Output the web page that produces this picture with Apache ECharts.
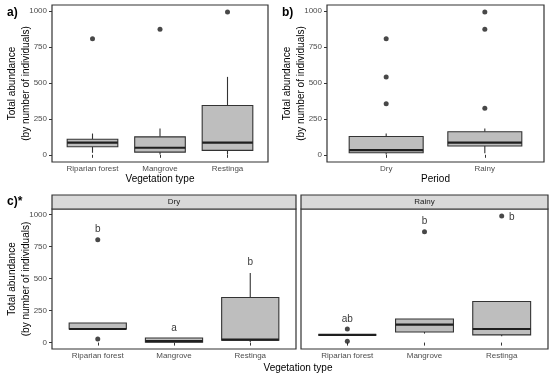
<!DOCTYPE html>
<html><head><meta charset="utf-8">
<script src="https://cdn.jsdelivr.net/npm/echarts@6/dist/echarts.min.js"></script>
<style>html,body{margin:0;padding:0;background:#fff}#c{width:550px;height:377px}</style>
</head><body><div id="c"></div>
<script>
// ---------- data ----------
const vegCats = ['Riparian forest', 'Mangrove', 'Restinga'];
const periodCats = ['Dry', 'Rainy'];
const yTicks = [0, 250, 500, 750, 1000];
// box stats: [position, lowerWhisker, Q1, median, Q3, upperWhisker]
const boxesVeg = [[1, 14, 56, 85, 108, 148], [2, 3, 19, 49, 125, 183], [3, 2, 31, 85, 343, 542]];
const outliersVeg = [[1, 808], [2, 873], [3, 993]];
const boxesPeriod = [[1, 3, 14, 33, 127, 148], [2, 10, 61, 85, 160, 183]];
const outliersPeriod = [[1, 808], [1, 542], [1, 355], [2, 993], [2, 873], [2, 324]];
const boxesDry = [[1, 106, 106, 106, 153, 153], [2, 2, 3, 12, 36, 36], [3, 5, 18, 23, 352, 542]];
const outliersDry = [[1, 803], [1, 28]];
const lettersDry = [[1, 883, 'b'], [2, 114, 'a'], [3, 624, 'b']];
const boxesRainy = [[1, 60, 60, 60, 60, 60], [2, 70, 83, 140, 184, 184], [3, 49, 60, 106, 321, 321]];
const outliersRainy = [[1, 106], [1, 10], [2, 865], [3, 987]];
const lettersRainy = [[1, 184, 'ab'], [2, 943, 'b'], [3.13, 981, 'b']];

// ---------- styling ----------
const FONT = 'Liberation Sans, Arial, Helvetica, sans-serif';
const TICK_COL = '#4d4d4d';
const FRAME = '#333333';
const Y_MIN = -50, Y_MAX = 1042;

const grids = [
  { left: 52, top: 5, width: 216, height: 157 },
  { left: 327, top: 5, width: 217, height: 157 },
  { left: 52, top: 209, width: 244, height: 140 },
  { left: 301, top: 209, width: 247, height: 140 }
].map(g => Object.assign({ show: true, borderColor: FRAME, borderWidth: 1.2, backgroundColor: '#fff',
  containLabel: false, outerBoundsMode: 'none' }, g));

function xAxis(idx, cats, name) {
  const vals = cats.map((c, i) => i + 1);
  return {
    type: 'value', gridIndex: idx, min: 0.4, max: cats.length + 0.6,
    axisLine: { show: false }, splitLine: { show: false },
    axisTick: { show: true, length: 3, customValues: vals, lineStyle: { color: FRAME, width: 1 } },
    axisLabel: { show: true, customValues: vals, margin: 3, fontSize: 8, color: TICK_COL, fontFamily: FONT,
      formatter: v => cats[Math.round(v) - 1] || '' },
    name: name, nameLocation: 'middle', nameGap: 12, nameMoveOverlap: false,
    nameTextStyle: { fontSize: 10, color: '#000', fontFamily: FONT }
  };
}
function yAxis(idx, showLabels) {
  return {
    type: 'value', gridIndex: idx, min: Y_MIN, max: Y_MAX,
    axisLine: { show: false }, splitLine: { show: false },
    axisTick: { show: showLabels, length: 3, customValues: yTicks, lineStyle: { color: FRAME, width: 1 } },
    axisLabel: { show: showLabels, customValues: yTicks, margin: 5, fontSize: 8, color: TICK_COL, fontFamily: FONT,
      formatter: v => String(v) },
    name: showLabels ? 'Total abundance\n(by number of individuals)' : '',
    nameLocation: 'middle', nameRotate: 90, nameGap: 19, nameMoveOverlap: false,
    nameTextStyle: { fontSize: 10, color: '#000', fontFamily: FONT, lineHeight: 14 }
  };
}

function renderBox(params, api) {
  const x = api.value(0);
  const lo = api.coord([x, api.value(1)]);
  const q1 = api.coord([x, api.value(2)]);
  const med = api.coord([x, api.value(3)]);
  const q3 = api.coord([x, api.value(4)]);
  const hi = api.coord([x, api.value(5)]);
  const w = api.size([0.75, 0])[0];
  const cx = q1[0];
  return {
    type: 'group',
    children: [
      { type: 'line', shape: { x1: cx, y1: lo[1], x2: cx, y2: q1[1] }, style: { stroke: FRAME, lineWidth: 1.1 } },
      { type: 'line', shape: { x1: cx, y1: q3[1], x2: cx, y2: hi[1] }, style: { stroke: FRAME, lineWidth: 1.1 } },
      { type: 'rect', shape: { x: cx - w / 2, y: q3[1], width: w, height: q1[1] - q3[1] },
        style: { fill: '#bebebe', stroke: FRAME, lineWidth: 1.1 } },
      { type: 'line', shape: { x1: cx - w / 2, y1: med[1], x2: cx + w / 2, y2: med[1] },
        style: { stroke: '#1f1f1f', lineWidth: 2.2 } }
    ]
  };
}
function boxSeries(idx, data) {
  return { type: 'custom', xAxisIndex: idx, yAxisIndex: idx, renderItem: renderBox,
    dimensions: ['x', 'lo', 'q1', 'med', 'q3', 'hi'],
    encode: { x: 0, y: [1, 2, 3, 4, 5] }, data: data, silent: true, z: 2 };
}
function outlierSeries(idx, data) {
  return { type: 'scatter', xAxisIndex: idx, yAxisIndex: idx, data: data, symbolSize: 5,
    itemStyle: { color: '#1a1a1a' }, silent: true, z: 3 };
}
function letterSeries(idx, data) {
  return { type: 'scatter', xAxisIndex: idx, yAxisIndex: idx, symbolSize: 0, silent: true, z: 4,
    data: data.map(d => ({ value: [d[0], d[1]], name: d[2] })),
    label: { show: true, position: 'inside', formatter: '{b}', fontSize: 10, color: '#000', fontFamily: FONT } };
}

const option = {
  animation: false,
  grid: grids,
  xAxis: [xAxis(0, vegCats, 'Vegetation type'), xAxis(1, periodCats, 'Period'), xAxis(2, vegCats, ''), xAxis(3, vegCats, '')],
  yAxis: [yAxis(0, true), yAxis(1, true), yAxis(2, true), yAxis(3, false)],
  series: [
    boxSeries(0, boxesVeg), outlierSeries(0, outliersVeg),
    boxSeries(1, boxesPeriod), outlierSeries(1, outliersPeriod),
    boxSeries(2, boxesDry), outlierSeries(2, outliersDry), letterSeries(2, lettersDry),
    boxSeries(3, boxesRainy), outlierSeries(3, outliersRainy), letterSeries(3, lettersRainy)
  ],
  graphic: [
    { type: 'rect', shape: { x: 52, y: 195, width: 244, height: 14 }, style: { fill: '#d9d9d9', stroke: FRAME, lineWidth: 1.2 } },
    { type: 'rect', shape: { x: 301, y: 195, width: 247, height: 14 }, style: { fill: '#d9d9d9', stroke: FRAME, lineWidth: 1.2 } },
    { type: 'text', x: 174, y: 202, style: { text: periodCats[0], fill: '#1a1a1a', font: '8px ' + FONT, align: 'center', verticalAlign: 'middle' } },
    { type: 'text', x: 424.5, y: 202, style: { text: periodCats[1], fill: '#1a1a1a', font: '8px ' + FONT, align: 'center', verticalAlign: 'middle' } },
    { type: 'text', x: 7, y: 12.5, style: { text: 'a)', font: 'bold 12px ' + FONT, fill: '#000', verticalAlign: 'middle' } },
    { type: 'text', x: 282, y: 12.5, style: { text: 'b)', font: 'bold 12px ' + FONT, fill: '#000', verticalAlign: 'middle' } },
    { type: 'text', x: 7, y: 202, style: { text: 'c)*', font: 'bold 12px ' + FONT, fill: '#000', verticalAlign: 'middle' } },
    { type: 'text', x: 298, y: 368, style: { text: 'Vegetation type', font: '10px ' + FONT, fill: '#000', align: 'center', verticalAlign: 'middle' } }
  ]
};
echarts.init(document.getElementById('c'), null, { renderer: 'canvas' }).setOption(option);
</script>
</body></html>
